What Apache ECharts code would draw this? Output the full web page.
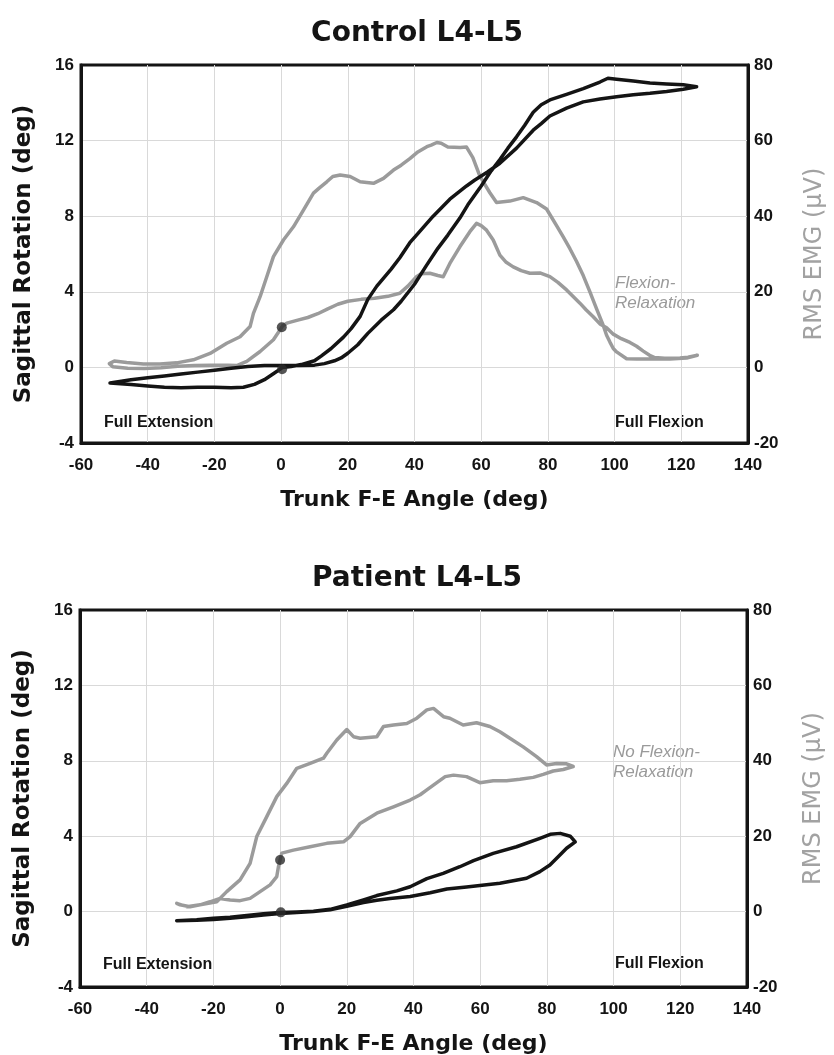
<!DOCTYPE html>
<html><head><meta charset="utf-8">
<script src="https://cdn.jsdelivr.net/npm/echarts@6/dist/echarts.min.js"></script>
<style>html,body{margin:0;padding:0;background:#fff}#c{width:834px;height:1055px}</style>
</head><body><div id="c"></div>
<script>
// ---- tick values ----
const xTicks = [-60, -40, -20, 0, 20, 40, 60, 80, 100, 120, 140];
const rotTicks = [-4, 0, 4, 8, 12, 16];
const emgTicks = [-20, 0, 20, 40, 60, 80];

// ---- Control L4-L5: sagittal rotation loop (deg) [trunk angle, rotation] ----
const ctrlRotation = [
  [-51.3,-0.83],[-45,-0.65],[-40,-0.55],[-35,-0.45],[-30,-0.35],[-25,-0.25],[-20,-0.15],[-15,-0.05],[-10,0.05],[-5,0.1],[0,0.1],[5,0.1],[10,0.12],[13,0.2],[16,0.35],[18,0.5],[20,0.75],[23,1.2],[26,1.8],[30,2.5],[33.7,3.05],[36,3.5],[40,4.4],[43.6,5.4],[47,6.3],[50,7.0],[53.6,7.9],[56,8.6],[60,9.6],[63,10.4],[65.6,11.0],[68,11.6],[70.6,12.2],[73,12.8],[75.6,13.5],[78,13.9],[80.6,14.15],[85.6,14.45],[90.6,14.75],[95.6,15.1],[98,15.3],[100.6,15.25],[105.6,15.15],[110.6,15.05],[115.6,15.0],[120.6,14.95],[124.6,14.85],
  [120.6,14.72],[115.6,14.6],[110.6,14.5],[105.6,14.42],[100.6,14.32],[95.6,14.2],[90.6,14.05],[85.6,13.72],[80.6,13.3],[78,12.9],[75.6,12.55],[70.6,11.6],[65.6,10.8],[62,10.35],[58,9.9],[55.6,9.6],[50.6,8.9],[45.6,8.0],[40.6,7.0],[38.6,6.6],[35.6,5.8],[33,5.2],[28.7,4.3],[26,3.6],[23.7,2.7],[21,2.05],[18.7,1.6],[15,1.0],[12,0.6],[10,0.35],[6,0.15],[3,0.05],[0.5,0],
  [-2,-0.3],[-5,-0.65],[-8,-0.9],[-11.3,-1.05],[-15,-1.08],[-20,-1.05],[-25,-1.05],[-30,-1.08],[-35,-1.05],[-40,-0.98],[-45,-0.9],[-51.3,-0.83]
];
// ---- Control L4-L5: RMS EMG loop (uV) [trunk angle, emg] ----
const ctrlEmg = [
  [0.5,11],[1.7,11.7],[5,12.5],[8,13.2],[11,14.2],[14,15.5],[17,16.7],[20,17.5],[24,18.0],[28,18.3],[32,18.8],[35.6,19.6],[38,21.5],[40.6,24.0],[42,24.8],[44.6,24.9],[47,24.3],[48.6,24.0],[50.6,27.5],[53.6,31.9],[56.6,35.9],[58.6,38.1],[60,37.5],[61.6,36.3],[63.6,33.7],[65.6,29.7],[67.5,27.8],[69.6,26.6],[72,25.6],[74.6,24.9],[77.6,25.0],[80.6,24.0],[83,22.5],[85.6,20.5],[87.5,18.8],[89.6,17.0],[91.5,15.2],[93.6,13.4],[95.6,11.5],[97.6,10.5],[99.6,8.8],[102,7.6],[104.6,6.6],[106.6,5.6],[108.6,4.3],[110.5,3.2],[112,2.6],[115,2.4],[119.6,2.5],[122,2.7],[124.8,3.2],
  [121.6,2.5],[116.6,2.2],[110,2.2],[106.6,2.2],[103.6,2.3],[100.6,4.1],[99.6,5.0],[98.6,6.7],[97.6,8.5],[96.6,11.1],[94.6,15.5],[92.6,20.0],[90.6,24.3],[88.6,28.0],[86.6,31.4],[84.6,34.5],[82.6,37.5],[79.6,41.9],[76.6,43.6],[72.6,44.9],[68.6,44.0],[64.6,43.6],[62.6,46.2],[59.6,50.6],[57.5,55.5],[55.6,58.3],[53.7,58.2],[50,58.3],[48,59.3],[46.7,59.5],[45,58.8],[43.7,58.4],[41,57.0],[38.7,55.3],[36,53.5],[33.7,52.2],[30.7,50.0],[27.7,48.7],[23.7,49.1],[20.7,50.5],[17.7,50.9],[15.5,50.5],[13.7,49.1],[11.5,47.5],[9.7,46.1],[6.7,41.6],[3.7,37.2],[0.7,33.7],[-2.3,29.3],[-4.3,24.0],[-6.3,18.7],[-8.3,14.3],[-9.3,10.8],[-12.3,8.1],[-16.3,6.4],[-21.3,3.7],[-26.3,2.0],[-31.3,1.2],[-36.3,0.9],[-41.3,0.9],[-46.3,1.3],[-50,1.7],[-51.5,1.0],[-50.5,0.2],[-46,-0.2],[-41,-0.3],[-36,-0.1],[-31,0.3],[-26,0.5],[-21,0.6],[-16,0.6],[-13.3,0.5],[-10.3,1.6],[-6.3,4.2],[-2.3,7.3],[0.5,11]
];
// ---- Patient L4-L5: sagittal rotation loop ----
const patRotation = [
  [-31,-0.48],[-25,-0.43],[-20,-0.35],[-15,-0.3],[-10,-0.2],[-5,-0.12],[0,-0.05],[5,-0.02],[10,0.02],[15,0.12],[20,0.35],[25,0.62],[29,0.85],[35,1.1],[39,1.32],[44,1.75],[48.9,2.03],[53.9,2.38],[58,2.7],[63.9,3.09],[70.9,3.44],[77.9,3.89],[81,4.1],[84,4.15],[87,4.0],[88.5,3.7],
  [85.9,3.36],[83.9,3.0],[80.9,2.47],[77.9,2.12],[73.9,1.77],[65.9,1.5],[55.9,1.3],[50,1.2],[45,1.0],[39,0.8],[33,0.7],[29,0.6],[25,0.48],[20,0.28],[15,0.1],[10,0.0],[5,-0.05],[0,-0.1],[-5,-0.18],[-10,-0.28],[-15,-0.35],[-20,-0.42],[-25,-0.46],[-31,-0.48]
];
// ---- Patient L4-L5: RMS EMG loop ----
const patEmg = [
  [0,13.7],[0.5,15.5],[4,16.3],[9,17.2],[14,18.1],[19,18.5],[21,19.9],[24,23.4],[29,26.1],[34,27.8],[39,29.6],[42,31.0],[44,32.3],[47,34.2],[49.5,35.8],[52,36.2],[55.9,35.8],[59.9,34.2],[63.9,34.7],[67.9,34.7],[71.9,35.1],[75.9,35.6],[78.9,36.4],[81.9,37.3],[84.9,37.7],[87.9,38.5],
  [88.4,38.6],[85.9,39.2],[82.9,39.3],[79.9,38.9],[76.9,41.1],[72.9,43.7],[68.9,46.0],[65.9,47.7],[62.9,49.1],[58.9,50.1],[54.9,49.5],[50.9,51.3],[49,51.7],[46,53.9],[44,53.5],[41,51.3],[38,49.9],[34,49.5],[31,49.1],[29,46.4],[24,46.0],[22,46.4],[20,48.3],[17,45.5],[14,42.0],[13,40.7],[9,39.3],[5,38.0],[2,34.0],[-1,30.5],[-4,25.2],[-7,19.9],[-9,12.8],[-12,8.4],[-16,5.3],[-19,2.6],[-24,1.8],[-28,1.3],[-31,2.2],
  [-30,1.8],[-27,1.3],[-24,1.8],[-21,2.6],[-18,3.5],[-15,3.1],[-12,2.9],[-9,3.5],[-6,5.3],[-3,7.1],[-1,9.3],[-0.5,11.9],[0,13.7]
];
// ---- start markers ----
const ctrlRotStart = [[0.3, -0.1]];
const ctrlEmgStart = [[0.2, 10.6]];
const patRotStart = [[0.2, -0.04]];
const patEmgStart = [[0, 13.7]];

const titles = ['Control L4-L5', 'Patient L4-L5'];

const BLACK = '#141414', GRAY = '#9b9b9b', GRID = '#d9d9d9';
const tickFont = {color: BLACK, fontFamily: 'Liberation Sans', fontWeight: 'bold', fontSize: 17};

function xAxisFor(g) {
  return {
    type: 'value', gridIndex: g, min: xTicks[0], max: xTicks[xTicks.length - 1], interval: xTicks[1] - xTicks[0],
    axisLine: {show: true, onZero: false, lineStyle: {color: BLACK, width: 3}},
    axisTick: {show: false},
    splitLine: {show: true, showMinLine: false, showMaxLine: false, lineStyle: {color: GRID, width: 1}},
    axisLabel: Object.assign({margin: 14}, tickFont),
    name: 'Trunk F-E Angle (deg)', nameLocation: 'middle', nameGap: 46, nameMoveOverlap: false,
    nameTextStyle: {color: BLACK, fontFamily: 'DejaVu Sans', fontWeight: 'bold', fontSize: 22}
  };
}
function yLeftFor(g) {
  return {
    type: 'value', gridIndex: g, position: 'left', min: rotTicks[0], max: rotTicks[rotTicks.length - 1], interval: rotTicks[1] - rotTicks[0],
    axisLine: {show: true, onZero: false, lineStyle: {color: BLACK, width: 3}},
    axisTick: {show: false},
    splitLine: {show: true, showMinLine: false, showMaxLine: false, lineStyle: {color: GRID, width: 1}},
    axisLabel: Object.assign({margin: 7}, tickFont),
    name: 'Sagittal Rotation (deg)', nameLocation: 'middle', nameGap: 45, nameRotate: 90, nameMoveOverlap: false,
    nameTextStyle: {color: BLACK, fontFamily: 'DejaVu Sans', fontWeight: 'bold', fontSize: 23}
  };
}
function yRightFor(g) {
  return {
    type: 'value', gridIndex: g, position: 'right', min: emgTicks[0], max: emgTicks[emgTicks.length - 1], interval: emgTicks[1] - emgTicks[0],
    axisLine: {show: true, onZero: false, lineStyle: {color: BLACK, width: 3}},
    axisTick: {show: false},
    splitLine: {show: false},
    axisLabel: Object.assign({margin: 6}, tickFont),
    name: 'RMS EMG (\u00b5V)', nameLocation: 'middle', nameGap: 55, nameRotate: 90, nameMoveOverlap: false,
    nameTextStyle: {color: '#a2a2a2', fontFamily: 'DejaVu Sans', fontWeight: 'normal', fontSize: 24}
  };
}
function lineSeries(data, xi, yi, color) {
  return {type: 'line', data: data, xAxisIndex: xi, yAxisIndex: yi, showSymbol: false, symbol: 'none',
    smooth: false, lineStyle: {color: color, width: 3.5, join: 'round', cap: 'round'}, z: color === BLACK ? 4 : 3, silent: true};
}
function dotSeries(data, xi, yi) {
  return {type: 'scatter', data: data, xAxisIndex: xi, yAxisIndex: yi, symbol: 'circle', symbolSize: 10,
    itemStyle: {color: '#2a2a2a'}, z: 6, silent: true};
}
function txt(x, y, text, font, color) {
  return {type: 'text', x: x, y: y, silent: true,
    style: {text: text, font: font, fill: color, textAlign: 'left', textVerticalAlign: 'middle', verticalAlign: 'middle'}};
}

const chart = echarts.init(document.getElementById('c'), null, {renderer: 'canvas'});
chart.setOption({
  animation: false,
  backgroundColor: '#fff',
  title: [
    {text: titles[0], left: 412, top: 29, textAlign: 'center', textVerticalAlign: 'middle',
      textStyle: {color: BLACK, fontFamily: 'DejaVu Sans', fontWeight: 'bold', fontSize: 28}},
    {text: titles[1], left: 412, top: 574, textAlign: 'center', textVerticalAlign: 'middle',
      textStyle: {color: BLACK, fontFamily: 'DejaVu Sans', fontWeight: 'bold', fontSize: 28}}
  ],
  grid: [
    {left: 81, top: 65, width: 667, height: 378, show: true, borderColor: BLACK, borderWidth: 3, backgroundColor: 'transparent', outerBoundsMode: 'none', containLabel: false},
    {left: 80, top: 610, width: 667, height: 377, show: true, borderColor: BLACK, borderWidth: 3, backgroundColor: 'transparent', outerBoundsMode: 'none', containLabel: false}
  ],
  xAxis: [xAxisFor(0), xAxisFor(1)],
  yAxis: [yLeftFor(0), yRightFor(0), yLeftFor(1), yRightFor(1)],
  series: [
    lineSeries(ctrlEmg, 0, 1, GRAY),
    lineSeries(ctrlRotation, 0, 0, BLACK),
    dotSeries(ctrlRotStart, 0, 0),
    dotSeries(ctrlEmgStart, 0, 1),
    lineSeries(patEmg, 1, 3, GRAY),
    lineSeries(patRotation, 1, 2, BLACK),
    dotSeries(patRotStart, 1, 2),
    dotSeries(patEmgStart, 1, 3)
  ],
  graphic: [
    txt(104, 423, 'Full Extension', 'bold 16px "Liberation Sans"', BLACK),
    txt(615, 423, 'Full Flexion', 'bold 16px "Liberation Sans"', BLACK),
    txt(615, 283, 'Flexion-', 'italic 17px "Liberation Sans"', '#9a9a9a'),
    txt(615, 303, 'Relaxation', 'italic 17px "Liberation Sans"', '#9a9a9a'),
    txt(103, 965, 'Full Extension', 'bold 16px "Liberation Sans"', BLACK),
    txt(615, 964, 'Full Flexion', 'bold 16px "Liberation Sans"', BLACK),
    txt(613, 752, 'No Flexion-', 'italic 17px "Liberation Sans"', '#9a9a9a'),
    txt(613, 772, 'Relaxation', 'italic 17px "Liberation Sans"', '#9a9a9a')
  ]
});
</script>
</body></html>
